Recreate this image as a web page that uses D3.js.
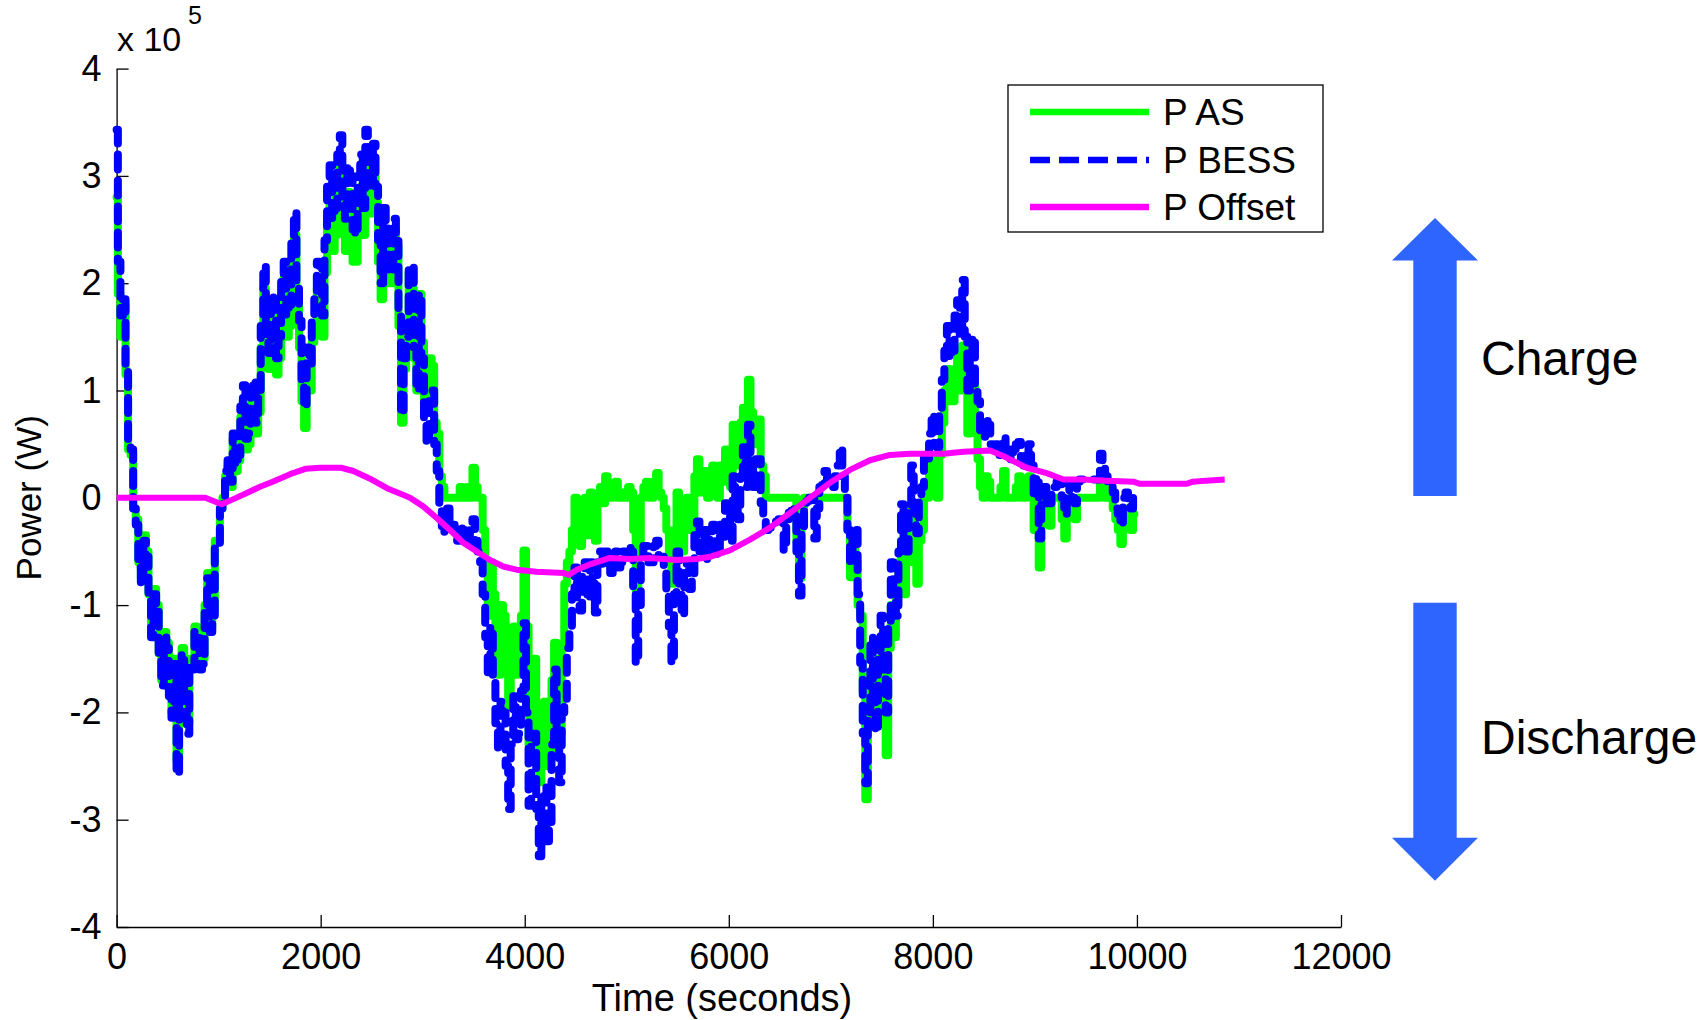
<!DOCTYPE html>
<html>
<head>
<meta charset="utf-8">
<script src="https://cdn.jsdelivr.net/npm/d3@7"></script>
<style>
  html, body { margin: 0; padding: 0; background: #fff; }
  svg text { font-family: 'Liberation Sans', Arial, Helvetica, sans-serif; fill: #000; }
</style>
</head>
<body>
<div id="chart"></div>
<script>
// sampling grid of the two noisy series (seconds)
var sampleTimes = d3.range(0, 10000, 25);

// P AS, x 10^5 W, one value per sample time (one row = 1000 s)
var powerAS = [
  2.8, 1.9, 1.5, 1.8, 1.15, 0.45, 0.4, -0.1, -0.2, -0.6, -0.75, -0.35, -0.5, -0.9, -1.25, -0.85, -1.0, -1.45, -1.7, -1.25, -1.35, -1.8, -2.0, -1.5, -2.45, -1.8, -1.4, -1.95, -2.1, -1.5, -1.55, -1.2, -1.25, -1.55, -1.5, -1.0, -0.7, -1.2, -1.05, -0.4,
  -0.4, -0.1, 0.0, 0.2, 0.3, 0.1, 0.55, 0.25, 0.35, 0.75, 0.9, 0.45, 0.5, 0.85, 1.0, 0.6, 0.8, 1.4, 1.95, 1.3, 1.2, 1.75, 1.7, 1.15, 1.3, 1.9, 2.05, 1.5, 1.6, 2.2, 2.45, 1.8, 1.4, 0.9, 0.65, 1.2, 1.0, 1.45, 1.6, 1.95,
  1.9, 1.5, 2.1, 2.6, 2.8, 2.3, 2.45, 2.9, 3.1, 2.5, 2.3, 2.85, 2.7, 2.2, 2.2, 2.75, 2.9, 2.45, 3.15, 2.7, 2.65, 3.0, 2.75, 2.2, 1.85, 2.5, 2.4, 2.0, 2.0, 2.5, 2.35, 1.6, 0.7, 1.2, 1.45, 2.1, 1.95, 1.3, 1.0, 1.9,
  1.45, 0.9, 0.9, 1.3, 1.23, 0.7, 0.6, 0.2, 0.1, 0.0, 0.0, 0.0, 0.0, 0.0, 0.0, 0.1, 0.0, 0.0, 0.1, 0.0, 0.28, 0.1, 0.0, 0.0, -0.3, -0.7, -1.1, -0.6, -0.9, -1.3, -1.65, -1.0, -1.1, -1.6, -1.95, -1.3, -1.2, -1.65, -1.6, -1.1,
  -0.49, -1.2, -2.3, -1.6, -1.5, -2.2, -2.65, -2.0, -1.9, -2.5, -2.4, -1.7, -1.35, -1.9, -2.2, -1.4, -0.8, -0.6, -0.5, -0.3, 0.0, -0.3, -0.45, -0.1, 0.0, -0.35, 0.05, -0.2, -0.4, 0.0, 0.1, -0.05, 0.2, 0.05, 0.0, 0.1, 0.15, 0.0, 0.0, 0.05,
  0.0, 0.1, 0.05, -0.3, -0.86, -0.4, 0.0, 0.1, 0.15, 0.0, 0.0, 0.15, 0.23, 0.05, 0.0, -0.1, -0.3, -0.6, -0.8, -0.3, 0.05, -0.2, -0.5, -0.1, 0.0, -0.3, -0.2, 0.2, 0.36, 0.05, 0.1, 0.25, 0.0, 0.2, 0.3, 0.05, 0.0, 0.3, 0.15, 0.45,
  0.4, 0.1, 0.68, 0.5, 0.3, 0.7, 0.84, 0.5, 1.1, 0.8, 0.5, 0.73, 0.73, 0.3, 0.2, 0.0, 0.0, 0.0, 0.0, 0.0, 0.0, 0.0, 0.0, 0.0, 0.0, 0.0, 0.0, -0.4, -0.75, -0.2, 0.0, 0.0, 0.0, 0.0, 0.0, 0.0, 0.0, 0.0, 0.0, 0.0,
  0.0, 0.0, 0.0, 0.0, 0.0, 0.0, 0.0, -0.3, -0.74, -0.4, -0.6, -1.0, -1.1, -1.8, -2.81, -2.0, -1.7, -2.1, -2.0, -1.5, -1.5, -2.0, -2.4, -1.4, -1.0, -1.3, -0.9, -0.6, -0.4, -0.9, -0.6, -0.3, -0.1, -0.6, -0.8, -0.4, -0.3, 0.0, 0.0, 0.3,
  0.36, 0.1, 0.0, 0.4, 0.7, 1.0, 1.2, 0.9, 0.9, 1.2, 1.37, 1.0, 1.42, 1.0, 0.6, 0.9, 1.1, 0.6, 0.36, 0.1, 0.0, 0.2, 0.15, 0.0, 0.0, 0.0, 0.0, 0.1, 0.25, 0.0, 0.0, 0.0, 0.0, 0.1, 0.2, 0.0, 0.0, 0.05, 0.2, 0.0,
  -0.3, 0.0, -0.65, -0.2, 0.0, -0.2, -0.26, 0.0, 0.0, 0.0, 0.0, -0.2, -0.38, -0.1, 0.0, -0.15, -0.2, 0.0, 0.0, 0.0, 0.0, 0.0, 0.0, 0.0, 0.0, 0.0, 0.25, 0.1, 0.0, 0.0, 0.0, -0.1, -0.2, -0.3, -0.43, -0.2, -0.1, -0.2, -0.3, -0.15
];

// P BESS, x 10^5 W
var powerBESS = [
  3.43, 2.2, 1.7, 1.85, 1.25, 0.5, 0.45, -0.1, -0.25, -0.65, -0.8, -0.4, -0.55, -0.95, -1.3, -0.9, -1.05, -1.5, -1.75, -1.3, -1.4, -1.85, -2.05, -1.55, -2.58, -1.85, -1.45, -2.0, -2.2, -1.55, -1.6, -1.25, -1.3, -1.6, -1.55, -1.05, -0.75, -1.25, -1.1, -0.45,
  -0.45, -0.1, 0.0, 0.25, 0.35, 0.15, 0.6, 0.3, 0.4, 0.85, 1.05, 0.55, 0.6, 0.95, 1.1, 0.7, 0.95, 1.6, 2.16, 1.45, 1.35, 1.9, 1.85, 1.3, 1.5, 2.05, 2.2, 1.7, 1.8, 2.4, 2.66, 2.0, 1.65, 1.1, 0.84, 1.4, 1.25, 1.7, 1.85, 2.2,
  2.16, 1.7, 2.4, 2.9, 3.1, 2.6, 2.7, 3.2, 3.38, 2.8, 2.6, 3.1, 3.0, 2.5, 2.45, 3.0, 3.2, 2.7, 3.43, 2.95, 2.9, 3.3, 2.9, 2.4, 2.0, 2.7, 2.55, 2.1, 2.1, 2.6, 2.45, 1.7, 0.78, 1.3, 1.5, 2.16, 2.16, 1.4, 1.0, 1.9,
  1.3, 0.7, 0.5, 0.9, 1.0, 0.5, 0.25, -0.1, -0.33, -0.1, -0.1, -0.3, -0.25, -0.35, -0.4, -0.25, -0.3, -0.45, -0.43, -0.3, -0.2, -0.4, -0.5, -0.6, -0.9, -1.3, -1.65, -1.2, -1.7, -2.1, -2.34, -1.9, -2.0, -2.5, -2.9, -2.3, -1.85, -2.25, -2.2, -1.8,
  -1.17, -2.0, -2.87, -2.3, -2.2, -2.9, -3.34, -2.8, -2.7, -3.2, -3.1, -2.3, -1.6, -2.2, -2.65, -2.0, -1.9, -1.4, -1.2, -0.9, -0.65, -1.0, -1.05, -0.7, -0.6, -0.95, -0.6, -0.8, -1.07, -0.6, -0.5, -0.65, -0.5, -0.6, -0.7, -0.55, -0.5, -0.65, -0.6, -0.5,
  -0.55, -0.45, -0.5, -0.9, -1.54, -1.0, -0.55, -0.45, -0.45, -0.6, -0.6, -0.45, -0.4, -0.55, -0.55, -0.7, -0.9, -1.2, -1.54, -0.9, -0.5, -0.8, -1.1, -0.7, -0.6, -0.85, -0.75, -0.35, -0.22, -0.5, -0.5, -0.3, -0.59, -0.35, -0.25, -0.5, -0.55, -0.25, -0.4, -0.05,
  -0.1, -0.4, 0.2, 0.0, -0.2, 0.2, 0.47, 0.1, 0.68, 0.4, 0.1, 0.36, 0.36, -0.05, -0.15, -0.3, -0.28, -0.28, -0.25, -0.22, -0.2, -0.2, -0.49, -0.2, -0.14, -0.12, -0.1, -0.5, -0.91, -0.3, -0.05, -0.03, 0.0, 0.0, -0.38, -0.1, 0.1, 0.12, 0.25, 0.15,
  0.15, 0.1, 0.2, 0.3, 0.47, 0.2, 0.0, -0.3, -0.59, -0.3, -0.3, -0.9, -1.54, -2.2, -2.66, -2.0, -1.3, -1.9, -2.18, -1.5, -1.1, -1.6, -2.0, -1.2, -0.6, -0.9, -1.1, -0.5, -0.06, -0.4, -0.5, -0.1, 0.3, -0.1, -0.33, 0.0, 0.1, 0.4, 0.36, 0.6,
  0.78, 0.5, 0.47, 0.8, 1.1, 1.37, 1.6, 1.3, 1.37, 1.7, 1.84, 1.5, 2.03, 1.5, 1.0, 1.3, 1.5, 1.0, 0.9, 0.6, 0.57, 0.75, 0.68, 0.5, 0.47, 0.5, 0.4, 0.5, 0.57, 0.4, 0.36, 0.45, 0.4, 0.5, 0.52, 0.35, 0.3, 0.4, 0.5, 0.3,
  0.0, 0.2, -0.38, 0.0, 0.1, -0.05, -0.05, 0.1, 0.1, 0.15, 0.15, 0.0, -0.16, 0.05, 0.15, 0.0, -0.05, 0.15, 0.17, 0.17, 0.17, 0.17, 0.17, 0.17, 0.17, 0.17, 0.41, 0.3, 0.2, 0.15, 0.15, 0.05, -0.1, -0.15, -0.26, 0.0, 0.05, -0.05, -0.1, 0.0
];

// P Offset, smooth curve read at these times
var offsetTimes = [0, 870, 1030, 1150, 1265, 1400, 1530, 1700, 1850, 2000, 2200, 2320, 2500, 2650, 2800, 2875,
  3005, 3140, 3267, 3400, 3530, 3660, 3790, 3920, 4115, 4380, 4430, 4510, 4640, 4835, 5030, 5225, 5490, 5685,
  5815, 6010, 6207, 6400, 6600, 6795, 6990, 7187, 7383, 7580, 7775, 8100, 8300, 8560, 8690, 8855, 8920, 9115,
  9280, 9475, 9700, 9965, 10030, 10485, 10550, 10680, 10860];
var powerOffset = [0, 0, -0.06, -0.01, 0.04, 0.1, 0.15, 0.22, 0.27, 0.28, 0.28, 0.25, 0.17, 0.09, 0.03, 0.0,
  -0.08, -0.19, -0.3, -0.42, -0.5, -0.58, -0.64, -0.67, -0.69, -0.7, -0.72, -0.67, -0.62, -0.56, -0.57, -0.56, -0.58, -0.57,
  -0.55, -0.49, -0.39, -0.28, -0.14, 0.0, 0.14, 0.26, 0.35, 0.4, 0.41, 0.41, 0.43, 0.44, 0.39, 0.31, 0.28, 0.23,
  0.17, 0.17, 0.16, 0.15, 0.13, 0.13, 0.15, 0.16, 0.17];

var xTicks = [0, 2000, 4000, 6000, 8000, 10000, 12000];
var yTicks = [-4, -3, -2, -1, 0, 1, 2, 3, 4];
var legendNames = ['P AS', 'P BESS', 'P Offset'];

var width = 1708;
var height = 1020;
var margin = {left: 116.6, right: 367, top: 68.6, bottom: 93};

var svg = d3.select('#chart').append('svg')
  .attr('width', width)
  .attr('height', height)
  .attr('viewBox', '0 0 ' + width + ' ' + height);

var x = d3.scaleLinear().domain([0, 12000]).range([margin.left, width - margin.right]);
var y = d3.scaleLinear().domain([-4, 4]).range([height - margin.bottom, margin.top]);

// axes, ticks pointing inward like MATLAB
var xAxis = svg.append('g')
  .attr('transform', 'translate(0,' + y(-4) + ')')
  .call(d3.axisBottom(x).tickValues(xTicks).tickSize(-12).tickSizeOuter(0).tickPadding(16)
    .tickFormat(function (d) { return String(d); }));
var yAxis = svg.append('g')
  .attr('transform', 'translate(' + x(0) + ',0)')
  .call(d3.axisLeft(y).tickValues(yTicks).tickSize(-12).tickSizeOuter(0).tickPadding(15)
    .tickFormat(function (d) { return String(d); }));
[xAxis, yAxis].forEach(function (g) {
  g.selectAll('path.domain').attr('stroke', '#000').attr('stroke-width', 1.3);
  g.selectAll('.tick line').attr('stroke', '#000').attr('stroke-width', 1.3);
  g.selectAll('.tick text')
    .style('font-family', "'Liberation Sans', Arial, sans-serif")
    .style('font-size', '36px')
    .attr('fill', '#000');
});

// series
var asData = sampleTimes.map(function (t, i) { return {t: t, v: powerAS[i]}; });
var bessData = sampleTimes.map(function (t, i) { return {t: t, v: powerBESS[i]}; });
var offData = offsetTimes.map(function (t, i) { return {t: t, v: powerOffset[i]}; });

var stepLine = d3.line()
  .x(function (d) { return x(d.t); })
  .y(function (d) { return y(d.v); })
  .curve(d3.curveStep);
var smoothLine = d3.line()
  .x(function (d) { return x(d.t); })
  .y(function (d) { return y(d.v); });

var plot = svg.append('g');
plot.append('path')
  .datum(asData)
  .attr('d', stepLine)
  .attr('fill', 'none')
  .attr('stroke', '#00ff00')
  .attr('stroke-width', 8)
  .attr('stroke-linejoin', 'round')
  .attr('stroke-linecap', 'round');
plot.append('path')
  .datum(bessData)
  .attr('d', stepLine)
  .attr('fill', 'none')
  .attr('stroke', '#0000ff')
  .attr('stroke-width', 8)
  .attr('stroke-linejoin', 'round')
  .attr('stroke-linecap', 'round')
  .attr('stroke-dasharray', '15,11');
plot.append('path')
  .datum(offData)
  .attr('d', smoothLine)
  .attr('fill', 'none')
  .attr('stroke', '#ff00ff')
  .attr('stroke-width', 6)
  .attr('stroke-linejoin', 'round');

// multiplier and axis labels
svg.append('text')
  .attr('x', 117)
  .attr('y', 51)
  .style('font-size', '34px')
  .text('x 10');
svg.append('text')
  .attr('x', 188)
  .attr('y', 24)
  .style('font-size', '25px')
  .text('5');

svg.append('text')
  .attr('transform', 'translate(41,' + ((y(4) + y(-4)) / 2) + ') rotate(-90)')
  .attr('text-anchor', 'middle')
  .style('font-size', '35px')
  .text('Power (W)');
svg.append('text')
  .attr('x', 722)
  .attr('y', 1011)
  .attr('text-anchor', 'middle')
  .style('font-size', '38px')
  .text('Time (seconds)');

// legend
var legend = svg.append('g');
legend.append('rect')
  .attr('x', 1008)
  .attr('y', 85)
  .attr('width', 315)
  .attr('height', 147)
  .attr('fill', '#fff')
  .attr('stroke', '#000')
  .attr('stroke-width', 1.3);
var legendRows = [
  {name: legendNames[0], color: '#00ff00', dash: null, y: 112},
  {name: legendNames[1], color: '#0000ff', dash: '20,9', y: 160},
  {name: legendNames[2], color: '#ff00ff', dash: null, y: 207}
];
legendRows.forEach(function (r) {
  legend.append('line')
    .attr('x1', 1030)
    .attr('x2', 1149)
    .attr('y1', r.y)
    .attr('y2', r.y)
    .attr('stroke', r.color)
    .attr('stroke-width', 6.5)
    .attr('stroke-dasharray', r.dash);
  legend.append('text')
    .attr('x', 1163)
    .attr('y', r.y)
    .attr('dy', '0.35em')
    .style('font-size', '37px')
    .text(r.name);
});

// charge / discharge arrows
var arrowColor = '#2f65ff';
var arrows = svg.append('g');
arrows.append('path')
  .attr('d', 'M1435,218 L1478,260.5 L1456.7,260.5 L1456.7,496 L1413.3,496 L1413.3,260.5 L1392,260.5 Z')
  .attr('fill', arrowColor);
arrows.append('path')
  .attr('d', 'M1413.3,602.7 L1456.7,602.7 L1456.7,837.7 L1478,837.7 L1435,880.7 L1392,837.7 L1413.3,837.7 Z')
  .attr('fill', arrowColor);
arrows.append('text')
  .attr('x', 1481)
  .attr('y', 375)
  .style('font-size', '48px')
  .text('Charge');
arrows.append('text')
  .attr('x', 1481)
  .attr('y', 754)
  .style('font-size', '48px')
  .text('Discharge');
</script>
</body>
</html>
